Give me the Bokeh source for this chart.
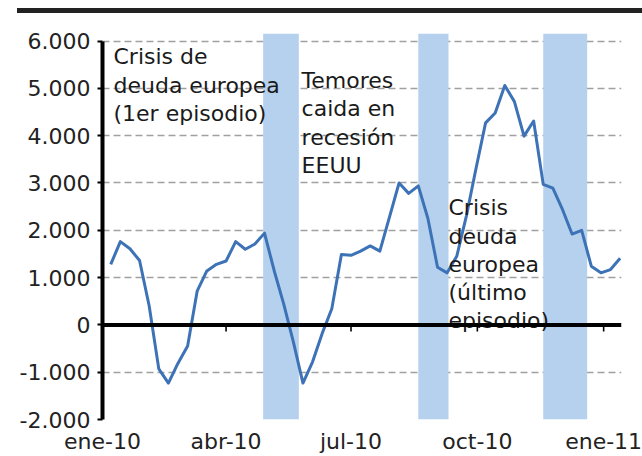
import pandas as pd
from bokeh.plotting import figure
from bokeh.models import FixedTicker, Span, Range1d, ColumnDataSource, Div
from bokeh.layouts import column
from bokeh.core.properties import value
from bokeh.embed import file_html
from bokeh.resources import INLINE

# ---------------- data ----------------
first_week = "2010-01-07"
flows = [1280, 1760, 1610, 1360, 400, -930, -1230, -810, -445, 720,
         1140, 1280, 1350, 1760, 1600, 1710, 1940, 1150, 440, -360,
         -1230, -780, -180, 340, 1490, 1470, 1560, 1670, 1560, 2280,
         3000, 2780, 2940, 2250, 1220, 1100, 1450, 2300, 3300, 4270,
         4480, 5060, 4720, 3990, 4310, 2970, 2890, 2440, 1920, 2000,
         1240, 1100, 1170, 1410]

band_starts = ["2010-04-28", "2010-08-19", "2010-11-18"]
band_ends = ["2010-05-24", "2010-09-10", "2010-12-20"]

x_tick_dates = ["2010-01-01", "2010-04-01", "2010-07-01", "2010-10-01", "2011-01-01"]
x_tick_labels = ["ene-10", "abr-10", "jul-10", "oct-10", "ene-11"]

y_ticks = [-2000, -1000, 0, 1000, 2000, 3000, 4000, 5000, 6000]
y_tick_labels = ["-2.000", "-1.000", "0", "1.000", "2.000", "3.000", "4.000", "5.000", "6.000"]

notes = ["Crisis de\ndeuda europea\n(1er episodio)",
         "Temores\ncaida en\nrecesión\nEEUU",
         "Crisis\ndeuda\neuropea\n(último\nepisodio)"]

# --------------- layout constants ---------------
note_x = ["2010-01-09", "2010-05-26", "2010-09-10"]
note_y = [5930, 5430, 2740]
x_start, x_end = "2010-01-01", "2011-01-14"
y_start, y_end = -2000, 6160

W = 642
RULE_H = 13
H = 456 - RULE_H
FONT = "DejaVu Sans"
LINE_COLOR = "#3d73b6"
BAND_COLOR = "#b5d1ee"

def ms(d):
    return pd.Timestamp(d).value / 1e6

dates = pd.date_range(first_week, periods=len(flows), freq="7D")
src = ColumnDataSource(dict(x=dates, y=flows))

p = figure(width=W, height=H, x_axis_type="datetime",
           x_range=Range1d(ms(x_start), ms(x_end)),
           y_range=Range1d(y_start, y_end),
           output_backend="svg", toolbar_location=None,
           min_border_left=102, min_border_right=21,
           min_border_top=20, min_border_bottom=37)
p.margin = (0, 0, 0, 0)
p.outline_line_color = None
p.background_fill_color = "white"
p.border_fill_color = "white"

# grid
p.xgrid.grid_line_color = None
p.ygrid.ticker = FixedTicker(ticks=[t for t in y_ticks if t != 0])
p.ygrid.grid_line_color = "#a0a0a0"
p.ygrid.grid_line_dash = "7 4"
p.ygrid.grid_line_width = 1.3

# bands
p.quad(left=[pd.Timestamp(d) for d in band_starts],
       right=[pd.Timestamp(d) for d in band_ends],
       bottom=y_start, top=y_end, fill_color=BAND_COLOR, line_color=None)

# zero line and its ticks
p.add_layout(Span(location=0, dimension="width", line_color="black", line_width=4))
p.segment(x0=[pd.Timestamp(d) for d in x_tick_dates[1:]], y0=0,
          x1=[pd.Timestamp(d) for d in x_tick_dates[1:]], y1=-140,
          line_color="black", line_width=1.6)

# series
p.line("x", "y", source=src, line_color=LINE_COLOR, line_width=3, line_join="round")

# notes
p.text(x=[pd.Timestamp(d) for d in note_x], y=note_y, text=notes,
       text_font=value(FONT), text_font_size="22px", text_baseline="top",
       text_align="left", text_line_height=1.13, text_color="#1a1a1a")

# y axis
ya = p.yaxis[0]
ya.ticker = FixedTicker(ticks=y_ticks)
ya.major_label_overrides = {t: l for t, l in zip(y_ticks, y_tick_labels)}
ya.bounds = (y_ticks[0], y_ticks[-1])
ya.axis_line_color = "black"
ya.axis_line_width = 4
ya.major_tick_in = 0
ya.major_tick_out = 5
ya.major_tick_line_width = 2
ya.major_tick_line_color = "black"
ya.minor_tick_line_color = None
ya.major_label_standoff = 7
ya.major_label_text_font = FONT
ya.major_label_text_font_size = "22px"
ya.major_label_text_color = "#222222"

# x axis (labels only)
xa = p.xaxis[0]
xt = [ms(d) for d in x_tick_dates]
xa.ticker = FixedTicker(ticks=xt)
xa.major_label_overrides = {t: l for t, l in zip(xt, x_tick_labels)}
xa.axis_line_color = None
xa.major_tick_line_color = None
xa.minor_tick_line_color = None
xa.major_tick_out = 0
xa.major_tick_in = 0
xa.major_label_standoff = 9
xa.major_label_text_font = FONT
xa.major_label_text_font_size = "22px"
xa.major_label_text_color = "#222222"

rule = Div(text='<div style="position:absolute;left:17px;top:8px;width:625px;'
                'height:5px;background:#222222;"></div>',
           width=W, height=RULE_H, margin=(0, 0, 0, 0))

layout = column(rule, p, spacing=0, margin=(0, 0, 0, 0))
open("out.html", "w").write(file_html(layout, INLINE))
